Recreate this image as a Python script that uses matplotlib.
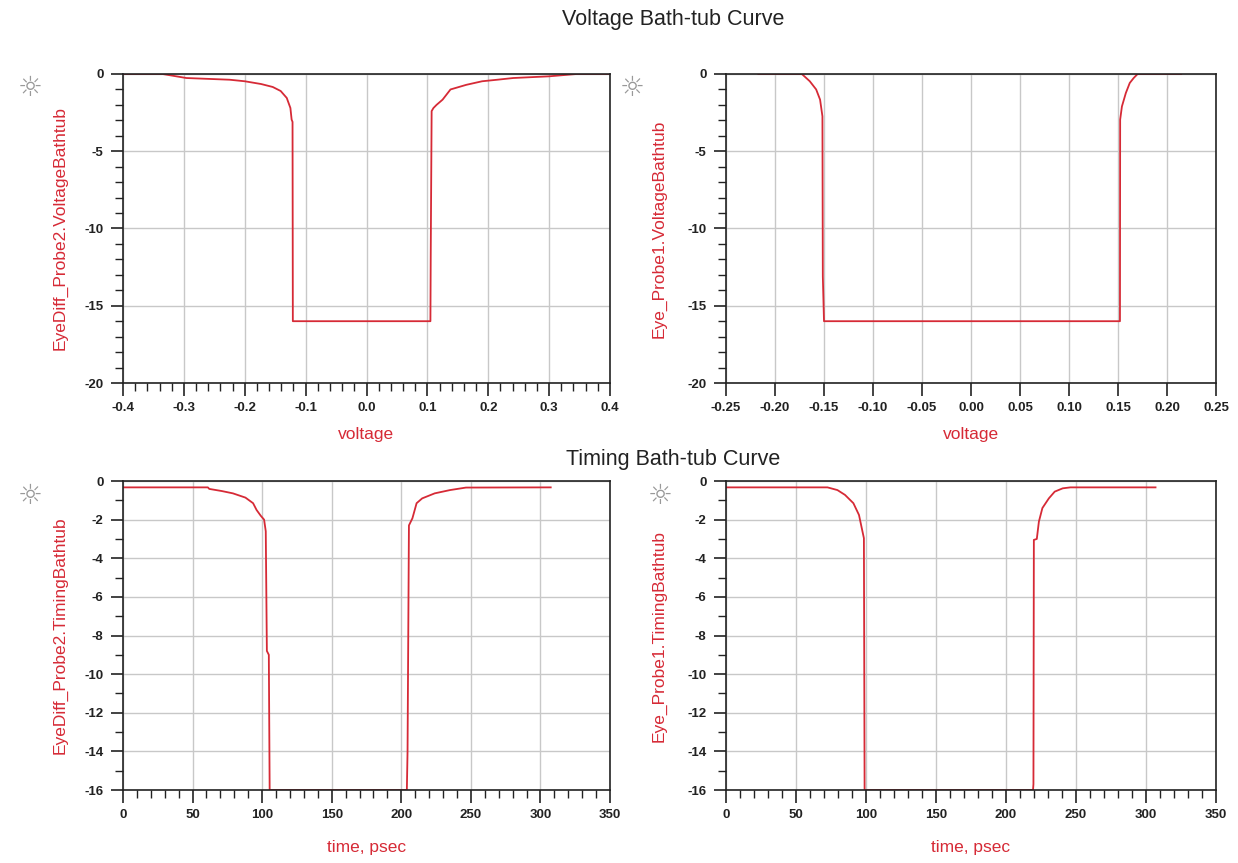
import matplotlib
matplotlib.use("Agg")
import matplotlib.pyplot as plt
from matplotlib.ticker import MultipleLocator

plt.rcParams['font.family'] = ['Liberation Sans', 'DejaVu Sans']
plt.rcParams['axes.unicode_minus'] = False

# ---- data ----
# voltage bathtub, EyeDiff_Probe2
v2_x = [-0.40, -0.335, -0.296, -0.225, -0.200, -0.173, -0.154, -0.141, -0.131,
        -0.125, -0.123, -0.1215, -0.121, 0.105, 0.1055, 0.107, 0.110, 0.115,
        0.125, 0.138, 0.164, 0.190, 0.215, 0.241, 0.300, 0.345, 0.400]
v2_y = [0.0, 0.0, -0.26, -0.37, -0.47, -0.65, -0.84, -1.1, -1.55,
        -2.2, -2.95, -3.1, -16.0, -16.0, -11.8, -2.4, -2.2, -2.0,
        -1.66, -1.0, -0.7, -0.47, -0.37, -0.26, -0.15, 0.0, 0.0]

# voltage bathtub, Eye_Probe1
v1_x = [-0.217, -0.1726, -0.1645, -0.158, -0.154, -0.1516, -0.1512, -0.150,
        0.152, 0.1522, 0.154, 0.158, 0.162, 0.166, 0.170, 0.2145]
v1_y = [0.0, 0.0, -0.47, -1.0, -1.66, -2.74, -13.1, -16.0,
        -16.0, -2.95, -2.1, -1.23, -0.58, -0.26, 0.0, 0.0]

# timing bathtub, EyeDiff_Probe2
t2_x = [0, 61, 62, 71, 79, 88, 93.5, 96, 99, 101.4, 102.6, 103.4, 104.8, 105.4,
        204, 204.5, 205.5, 208, 211, 215, 224, 235, 246.5, 307.4]
t2_y = [-0.33, -0.33, -0.41, -0.52, -0.64, -0.86, -1.15, -1.5, -1.8, -2.0, -2.6, -8.8, -9.0, -16.0,
        -16.0, -14.0, -2.3, -1.93, -1.15, -0.9, -0.64, -0.47, -0.34, -0.33]

# timing bathtub, Eye_Probe1
t1_x = [0, 72.5, 79.6, 85, 91, 95, 97, 98.5, 99, 219.3, 219.6, 219.9,
        222, 223.5, 226, 230.6, 234.8, 240.5, 246, 306.8]
t1_y = [-0.33, -0.33, -0.47, -0.72, -1.15, -1.76, -2.45, -2.96, -16.0, -16.0, -15.7, -3.05,
        -3.0, -2.1, -1.4, -0.9, -0.55, -0.38, -0.33, -0.33]

red = '#d62a36'
W, H = 1238, 863
fig = plt.figure(figsize=(12.38, 8.63), dpi=100)


def box(l, r, t, b):
    return [l / W, 1 - b / H, (r - l) / W, (b - t) / H]


def style(ax, xlim, ylim, xmaj, xmin, ymaj, ymin, xfmt, ylab, xlab, ylab_x, xpad):
    ax.set_xlim(xlim)
    ax.set_ylim(ylim)
    ax.xaxis.set_major_locator(MultipleLocator(xmaj))
    if xmin:
        ax.xaxis.set_minor_locator(MultipleLocator(xmin))
    ax.yaxis.set_major_locator(MultipleLocator(ymaj))
    ax.yaxis.set_minor_locator(MultipleLocator(ymin))
    ax.xaxis.set_major_formatter(xfmt)
    ax.grid(True, which='major', color='#c8c8c8', lw=1.0)
    ax.set_axisbelow(True)
    ax.tick_params(which='major', direction='out', length=9, width=1.2,
                   labelsize=9.5, pad=5, colors='#222222')
    ax.tick_params(which='minor', direction='out', length=6, width=1.0, colors='#222222')
    for lab in ax.get_xticklabels() + ax.get_yticklabels():
        lab.set_fontweight('bold')
    for s in ax.spines.values():
        s.set_color('#222222')
        s.set_linewidth(1.2)
    ax.set_ylabel(ylab, color=red, fontsize=12.5)
    ax.yaxis.set_label_coords(ylab_x, 0.5)
    ax.set_xlabel(xlab, color=red, fontsize=12.5, labelpad=xpad)


ax1 = fig.add_axes(box(123, 610, 74, 383))
ax1.plot(v2_x, v2_y, color=red, lw=1.3)
style(ax1, (-0.4, 0.4), (-20, 0), 0.1, 0.02, 5, 1, '{x:.1f}',
      'EyeDiff_Probe2.VoltageBathtub', 'voltage', -55 / 487, 9)

ax2 = fig.add_axes(box(726, 1216, 74, 383))
ax2.plot(v1_x, v1_y, color=red, lw=1.3)
style(ax2, (-0.25, 0.25), (-20, 0), 0.05, None, 5, 1, '{x:.2f}',
      'Eye_Probe1.VoltageBathtub', 'voltage', -59 / 490, 9)

ax3 = fig.add_axes(box(123, 610, 481, 790))
ax3.plot(t2_x, t2_y, color=red, lw=1.3)
style(ax3, (0, 350), (-16, 0), 50, 10, 2, 1, '{x:.0f}',
      'EyeDiff_Probe2.TimingBathtub', 'time, psec', -55 / 487, 13)

ax4 = fig.add_axes(box(726, 1216, 481, 790))
ax4.plot(t1_x, t1_y, color=red, lw=1.3)
style(ax4, (0, 350), (-16, 0), 50, 10, 2, 1, '{x:.0f}',
      'Eye_Probe1.TimingBathtub', 'time, psec', -59 / 490, 13)

fig.text(673 / W, 1 - 20 / H, 'Voltage Bath-tub Curve', ha='center', va='center',
         fontsize=15.5, color='#222222')
fig.text(673 / W, 1 - 460 / H, 'Timing Bath-tub Curve', ha='center', va='center',
         fontsize=15.5, color='#222222')

for (x, y) in [(30, 88), (632, 88), (30, 496), (660, 496)]:
    fig.text(x / W, 1 - y / H, '\u263c', ha='center', va='center',
             fontsize=20, color='#999999', family=['DejaVu Sans'])

fig.savefig('out.png', dpi=100)
